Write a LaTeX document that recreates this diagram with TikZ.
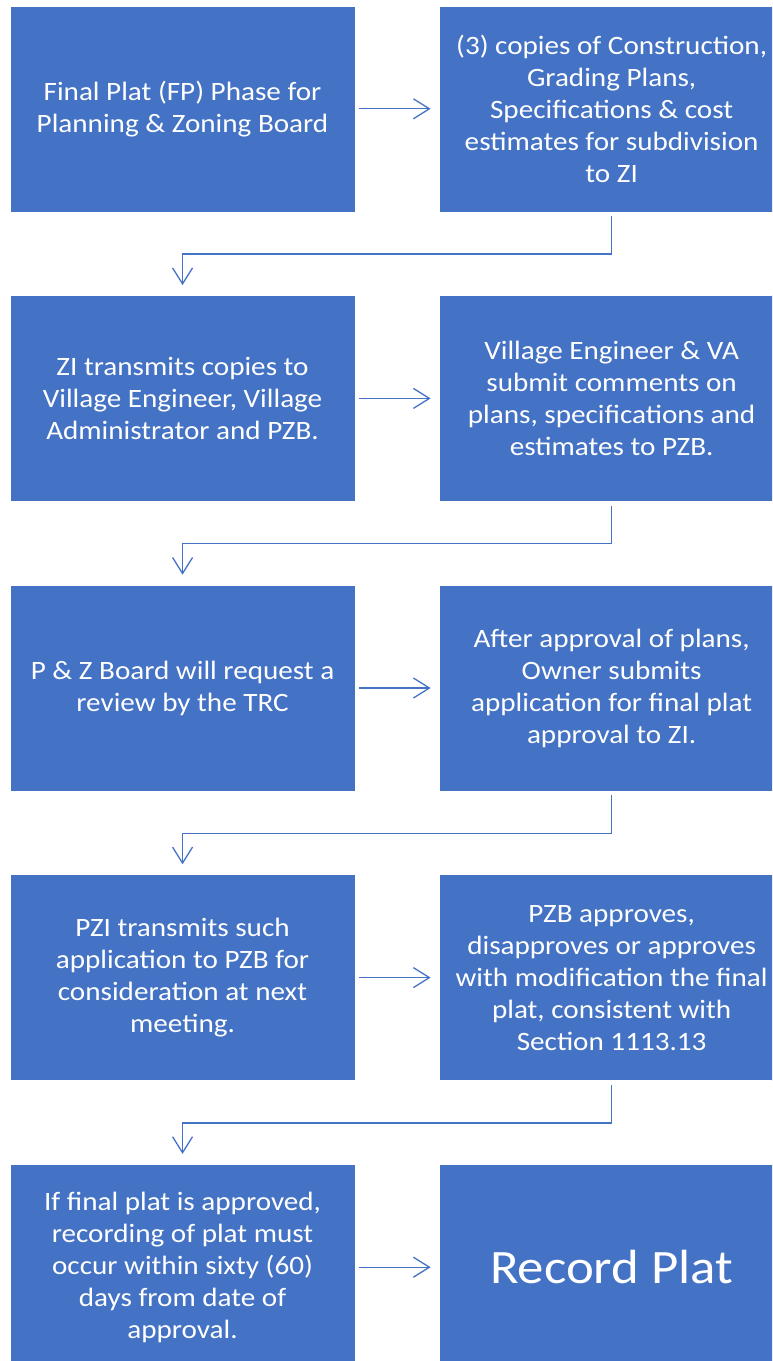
\documentclass[tikz,border=0pt]{standalone}
\usepackage{fontspec}
\setmainfont{Carlito}[FakeStretch=1.1]
\usepackage{tikz}
\usetikzlibrary{positioning,arrows.meta}
\definecolor{stepblue}{HTML}{4472C4}

\begin{document}
\begin{tikzpicture}
	[x=1pt,y=-1pt,
	every node/.style={font=\fontsize{26.5}{32}\selectfont, text=white},
	stepbox/.style={fill=stepblue, draw=white, line width=0.6pt, minimum width=345.5pt, minimum height=206pt, align=center, inner sep=0pt},
	flow/.style={draw=stepblue, line width=1.3pt, -{Straight Barb[length=16pt,width=20pt,line width=1.3pt]}}]
	\clip (0,0) rectangle (772,1361);
	% left column
	\node[stepbox, anchor=north west] (fp) at (9.5,5.5) {Final Plat (FP) Phase for\\Planning \& Zoning Board};
	\node[stepbox, below=83pt of fp] (zi) {ZI transmits copies to\\Village Engineer, Village\\Administrator and PZB.};
	\node[stepbox, below=83pt of zi] (trc) {P \& Z Board will request a\\review by the TRC};
	\node[stepbox, below=83pt of trc] (pzi) {PZI transmits such\\application to PZB for\\consideration at next\\meeting.};
	\node[stepbox, below=83pt of pzi] (rec) {If final plat is approved,\\recording of plat must\\occur within sixty (60)\\days from date of\\approval.};
	% right column
	\node[stepbox, right=83pt of fp] (copies) {(3) copies of Construction,\\Grading Plans,\\Specifications \& cost\\estimates for subdivision\\to ZI};
	\node[stepbox, right=83pt of zi] (va) {Village Engineer \& VA\\submit comments on\\plans, specifications and\\estimates to PZB.};
	\node[stepbox, right=83pt of trc] (owner) {After approval of plans,\\Owner submits\\application for final plat\\approval to ZI.};
	\node[stepbox, right=83pt of pzi] (pzb) {PZB approves,\\disapproves or approves\\with modification the final\\plat, consistent with\\Section 1113.13};
	\node[stepbox, right=83pt of rec, font=\fontsize{48}{56}\selectfont] (plat) {Record Plat};
	% across
	\foreach \a/\b in {fp/copies, zi/va, trc/owner, pzi/pzb, rec/plat}
		\draw[flow] ([xshift=3pt]\a.east) -- ([xshift=-8pt]\b.west);
	% back to the left
	\foreach \a/\b in {copies/zi, va/trc, owner/pzi, pzb/rec}
		\draw[flow] ([yshift=-4pt]\a.south) -- ++(0pt,-38pt) -| ([yshift=10pt]\b.north);
\end{tikzpicture}
\end{document}
